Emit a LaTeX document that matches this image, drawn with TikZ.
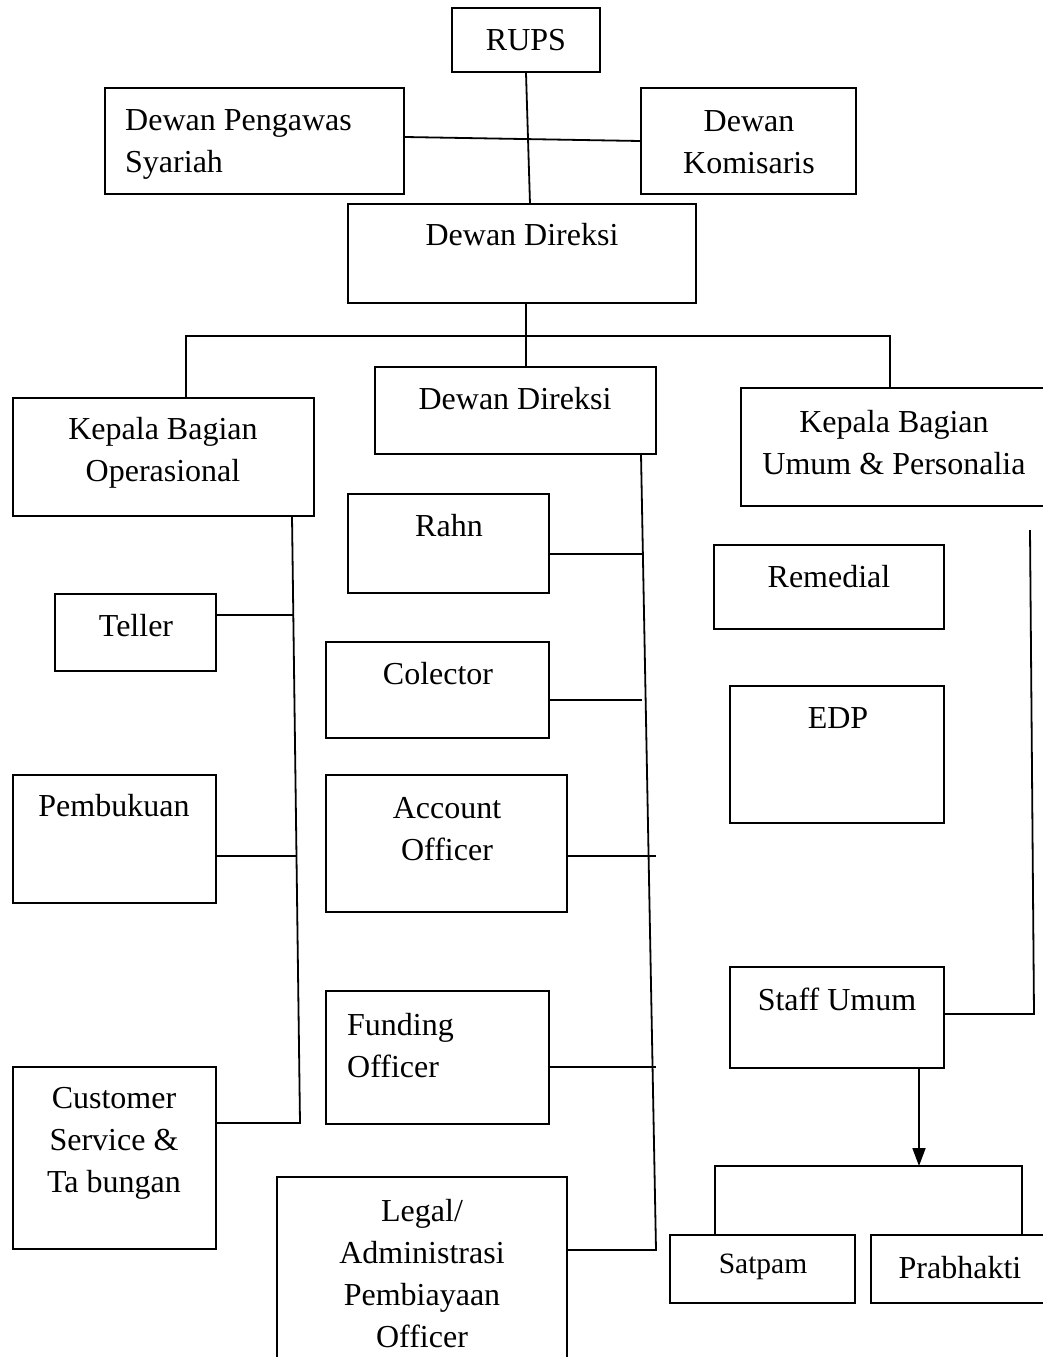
\documentclass[tikz,border=0pt]{standalone}
\usepackage{fontspec}
\setmainfont{Liberation Serif}
\usetikzlibrary{fit,arrows.meta}
\tikzset{
  box/.style={draw, line width=2pt, inner sep=0pt},
  lbl/.style={inner sep=0pt, align=center, font=\fontsize{32}{42}\selectfont},
  lbll/.style={inner sep=0pt, align=left, anchor=west, font=\fontsize{32}{42}\selectfont},
  conn/.style={line width=1.8pt},
}
\begin{document}
\begin{tikzpicture}[x=1pt,y=-1pt]
\useasboundingbox (0,0) rectangle (1043,1357);
\fill[white] (0,0) rectangle (1043,1357);

% boxes
\node[box, fit={(452,8) (600,72)}] (rups) {};
\node[box, fit={(105,88) (404,194)}] (dps) {};
\node[box, fit={(641,88) (856,194)}] (dk) {};
\node[box, fit={(348,204) (696,303)}] (dd1) {};
\node[box, fit={(13,398) (314,516)}] (kbo) {};
\node[box, fit={(375,367) (656,454)}] (dd2) {};
\node[box, fit={(741,388) (1056,506)}] (kbu) {};
\node[box, fit={(348,494) (549,593)}] (rahn) {};
\node[box, fit={(55,594) (216,671)}] (teller) {};
\node[box, fit={(326,642) (549,738)}] (col) {};
\node[box, fit={(13,775) (216,903)}] (pemb) {};
\node[box, fit={(326,775) (567,912)}] (ao) {};
\node[box, fit={(714,545) (944,629)}] (rem) {};
\node[box, fit={(730,686) (944,823)}] (edp) {};
\node[box, fit={(730,967) (944,1068)}] (staff) {};
\node[box, fit={(326,991) (549,1124)}] (fund) {};
\node[box, fit={(13,1067) (216,1249)}] (cs) {};
\node[box, fit={(277,1177) (567,1375)}] (legal) {};
\node[box, fit={(670,1235) (855,1303)}] (satpam) {};
\node[box, fit={(871,1235) (1056,1303)}] (prab) {};

% labels
\node[lbl] (t-rups) at (526,40) {RUPS};
\node[lbll] (t-dps) at (125,144) {Dewan Pengawas\\Syariah};
\node[lbl] (t-dk) at (749,142) {Dewan\\Komisaris};
\node[lbl] (t-dd1) at (522,235) {Dewan Direksi};
\node[lbl] (t-kbo) at (163,453) {Kepala Bagian\\Operasional};
\node[lbl] (t-dd2) at (515,399) {Dewan Direksi};
\node[lbl] (t-kbu) at (894,443) {Kepala Bagian\\Umum \& Personalia};
\node[lbl] (t-rahn) at (449,526) {Rahn};
\node[lbl] (t-teller) at (136,626) {Teller};
\node[lbl] (t-col) at (438,674) {Colector};
\node[lbl] (t-pemb) at (114,806) {Pembukuan};
\node[lbl] (t-ao) at (447,829) {Account\\Officer};
\node[lbl] (t-rem) at (829,577) {Remedial};
\node[lbl] (t-edp) at (838,718) {EDP};
\node[lbl] (t-staff) at (837,999) {Staff Umum};
\node[lbll] (t-fund) at (347,1046) {Funding\\Officer};
\node[lbl] (t-cs) at (114,1143) {Customer\\Service \&\\Ta bungan};
\node[lbl] (t-legal) at (422,1274) {Legal/\\Administrasi\\Pembiayaan\\Officer};
\node[lbl, font=\fontsize{29.5}{36}\selectfont] (t-satpam) at (763,1267) {Satpam};
\node[lbl] (t-prab) at (960,1268) {Prabhakti};

% junction coordinates
\coordinate (top) at (530,204);
\coordinate (hub) at (526,336);
\coordinate (hl) at (186,336);
\coordinate (hr) at (890,336);
\coordinate (lt) at (292,516);
\coordinate (jt) at (293,615);
\coordinate (jp) at (297,856);
\coordinate (lb) at (300,1123);
\coordinate (mt) at (641,454);
\coordinate (jr) at (642,554);
\coordinate (jc) at (642,700);
\coordinate (ja) at (656,856);
\coordinate (jf) at (656,1067);
\coordinate (mb) at (656,1250);
\coordinate (rt) at (1030,530);
\coordinate (rb) at (1034,1014);
\coordinate (ar) at (919,1166);
\coordinate (bl) at (715,1166);
\coordinate (br) at (1022,1166);

% connectors
\draw[conn] (rups.south) -- (top);
\draw[conn] (dps.east) ++(0,-4) -- (dk.west);
\draw[conn] (dd1.south -| hub) -- (dd2.north -| hub);
\draw[conn] (kbo.north -| hl) -- (hl) -- (hr) -- (kbu.north -| hr);
\draw[conn] (lt) -- (lb) -- (cs.east |- lb);
\draw[conn] (teller.east |- jt) -- (jt);
\draw[conn] (pemb.east |- jp) -- (jp);
\draw[conn] (mt) -- (mb) -- (legal.east |- mb);
\draw[conn] (rahn.east |- jr) -- (jr);
\draw[conn] (col.east |- jc) -- (jc);
\draw[conn] (ao.east |- ja) -- (ja);
\draw[conn] (fund.east |- jf) -- (jf);
\draw[conn] (rt) -- (rb) -- (staff.east |- rb);
\draw[conn, -{Triangle[length=18pt,width=13pt]}] (staff.south -| ar) -- (ar);
\draw[conn] (satpam.north -| bl) -- (bl) -- (br) -- (prab.north -| br);
\end{tikzpicture}
\end{document}
